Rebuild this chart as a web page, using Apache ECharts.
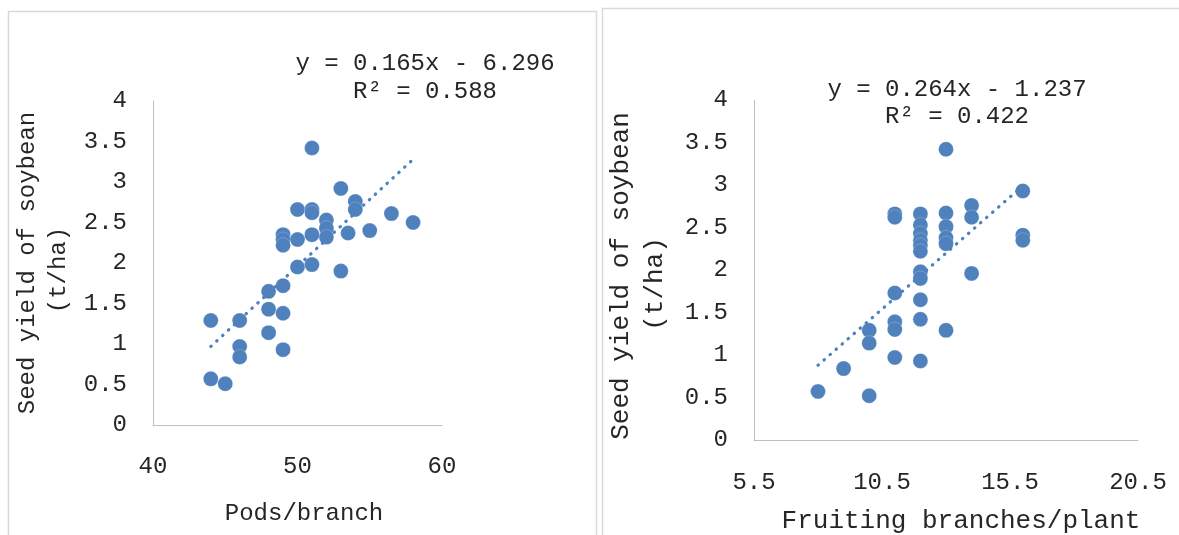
<!DOCTYPE html>
<html><head><meta charset="utf-8">
<script src="https://cdn.jsdelivr.net/npm/echarts@6/dist/echarts.min.js"></script>
<style>html,body{margin:0;padding:0;background:#fff}#c{width:1179px;height:535px}</style>
</head><body><div id="c"></div>
<script>
// Left panel: pods/branch vs seed yield
const podsX = [51, 53, 54, 54, 50, 51, 51, 56.5, 58, 52, 52, 52, 53.5, 55, 51, 49, 49, 49, 50, 50, 51, 53, 49, 48, 48, 49, 44, 46, 48, 46, 46, 49, 44, 45];
const podsYield = [3.42, 2.92, 2.76, 2.66, 2.66, 2.66, 2.62, 2.61, 2.50, 2.53, 2.43, 2.32, 2.37, 2.40, 2.35, 2.35, 2.29, 2.22, 2.29, 1.95, 1.98, 1.90, 1.72, 1.65, 1.43, 1.38, 1.29, 1.29, 1.14, 0.97, 0.84, 0.93, 0.57, 0.51];
const podsTrend = [[44, 0.97], [58, 3.28]];
const podsEq = ['y = 0.165x - 6.296', 'R² = 0.588'];

// Right panel: fruiting branches/plant vs seed yield
const branchX = [8, 9, 10, 10, 10, 11, 11, 11, 11, 11, 11, 12, 12, 12, 12, 12, 12, 12, 12, 12, 12, 12, 13, 13, 13, 13, 13, 13, 14, 14, 14, 16, 16, 16];
const branchYield = [0.57, 0.84, 1.29, 1.14, 0.52, 2.66, 2.62, 1.73, 1.39, 1.30, 0.97, 2.66, 2.53, 2.43, 2.35, 2.29, 2.22, 1.98, 1.90, 1.65, 1.42, 0.93, 3.42, 2.67, 2.51, 2.38, 2.31, 1.29, 2.76, 2.62, 1.96, 2.93, 2.41, 2.35];
const branchTrend = [[8, 0.88], [16, 2.99]];
const branchEq = ['y = 0.264x - 1.237', 'R² = 0.422'];
const branchTicks = [5.5, 10.5, 15.5, 20.5];

const yTitle1 = 'Seed yield of soybean';
const yTitle2 = '(t/ha)';
const xTitleL = 'Pods/branch';
const xTitleR = 'Fruiting branches/plant';

const FONT = '"Liberation Mono", "DejaVu Sans Mono", monospace';
const TXT = '#262626';
const BLUE = '#4f81bd';
const AXC = '#bfbfbf';

const chart = echarts.init(document.getElementById('c'), null, {renderer: 'canvas'});

function pairs(xs, ys) { return xs.map((x, i) => [x, ys[i]]); }

function yAxisCfg(idx) {
  return {
    gridIndex: idx, type: 'value', min: 0, max: 4, interval: 0.5,
    axisLine: {show: true, lineStyle: {color: AXC, width: 1}},
    axisTick: {show: false}, splitLine: {show: false},
    axisLabel: {fontFamily: FONT, fontSize: 24, color: TXT, margin: 26}
  };
}

function txt(x, y, text, size, rot) {
  return {
    type: 'text', x: x, y: y, rotation: rot || 0, silent: true,
    style: {text: text, fill: TXT, font: size + 'px ' + FONT, align: 'center', verticalAlign: 'middle'}
  };
}

const option = {
  animation: false,
  backgroundColor: '#ffffff',
  grid: [
    {left: 153, top: 101, width: 289, height: 324},
    {left: 754, top: 100, width: 384, height: 340}
  ],
  xAxis: [
    {
      gridIndex: 0, type: 'value', min: 40, max: 60, interval: 10,
      axisLine: {show: true, lineStyle: {color: AXC, width: 1}},
      axisTick: {show: false}, splitLine: {show: false},
      axisLabel: {fontFamily: FONT, fontSize: 24, color: TXT, margin: 30}
    },
    {
      gridIndex: 1, type: 'value', min: 5.5, max: 20.5, interval: 5,
      axisLine: {show: true, lineStyle: {color: AXC, width: 1}},
      axisTick: {show: false}, splitLine: {show: false},
      axisLabel: {fontFamily: FONT, fontSize: 24, color: TXT, margin: 31, customValues: branchTicks,
        formatter: v => String(v)}
    }
  ],
  yAxis: [yAxisCfg(0), yAxisCfg(1)],
  series: [
    {
      type: 'line', xAxisIndex: 0, yAxisIndex: 0, data: podsTrend, symbol: 'none', silent: true, z: 3,
      lineStyle: {color: BLUE, width: 3.2, type: [0.5, 7.5], cap: 'round'}
    },
    {
      type: 'scatter', xAxisIndex: 0, yAxisIndex: 0, data: pairs(podsX, podsYield), symbol: 'circle', symbolSize: 15, z: 2,
      itemStyle: {color: BLUE, opacity: 1, borderColor: 'rgba(255,255,255,0.35)', borderWidth: 0.6}
    },
    {
      type: 'line', xAxisIndex: 1, yAxisIndex: 1, data: branchTrend, symbol: 'none', silent: true, z: 3,
      lineStyle: {color: BLUE, width: 3.2, type: [0.5, 7.5], cap: 'round'}
    },
    {
      type: 'scatter', xAxisIndex: 1, yAxisIndex: 1, data: pairs(branchX, branchYield), symbol: 'circle', symbolSize: 15, z: 2,
      itemStyle: {color: BLUE, opacity: 1, borderColor: 'rgba(255,255,255,0.35)', borderWidth: 0.6}
    }
  ],
  graphic: [
    {type: 'rect', silent: true, shape: {x: 8.5, y: 11.5, width: 588, height: 540}, style: {fill: 'none', stroke: '#d9d9d9', lineWidth: 1.5}},
    {type: 'rect', silent: true, shape: {x: 602.5, y: 8.5, width: 600, height: 540}, style: {fill: 'none', stroke: '#d9d9d9', lineWidth: 1.5}},
    txt(425, 64, podsEq[0], 24),
    txt(425, 92, podsEq[1], 24),
    txt(957, 90, branchEq[0], 24),
    txt(957, 117, branchEq[1], 24),
    txt(304, 514, xTitleL, 24),
    txt(961, 521, xTitleR, 26),
    txt(28, 263, yTitle1, 24, Math.PI / 2),
    txt(59, 270, yTitle2, 24, Math.PI / 2),
    txt(621, 276, yTitle1, 26, Math.PI / 2),
    txt(655, 284, yTitle2, 26, Math.PI / 2)
  ]
};
chart.setOption(option);
</script></body></html>
